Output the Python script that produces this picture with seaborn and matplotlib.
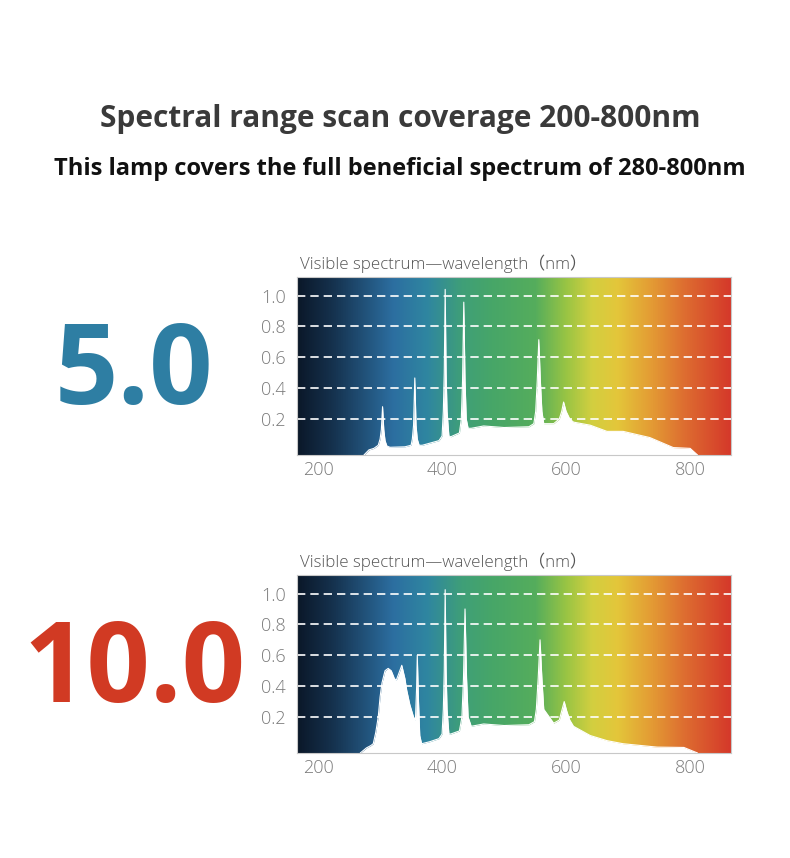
import numpy as np
import matplotlib
matplotlib.use("Agg")
import matplotlib.pyplot as plt
import seaborn as sns
from matplotlib.colors import LinearSegmentedColormap

# spectrum of the 5.0 lamp (wavelength nm, relative intensity)
wl_5 = [274, 282, 290, 297, 300, 302, 304, 306, 308, 311, 316, 340, 350, 352, 354, 356, 358, 360, 363,
        368, 395, 400, 402, 403.5, 405, 406.5, 408, 411, 414, 428, 431, 433, 435, 437, 439, 442,
        447, 467, 500, 540, 548, 551, 553.5, 556, 558.5, 561, 564, 580, 589, 593, 596, 600, 606,
        612, 639, 666, 692, 735, 773, 800, 812]
int_5 = [-0.033, 0.0, 0.01, 0.03, 0.07, 0.13, 0.28, 0.13, 0.06, 0.025, 0.017, 0.02, 0.03, 0.07, 0.16, 0.466, 0.16, 0.07, 0.03,
         0.03, 0.06, 0.09, 0.25, 0.5, 1.04, 0.5, 0.25, 0.09, 0.085, 0.11, 0.2, 0.45, 0.957, 0.45, 0.2, 0.14,
         0.14, 0.155, 0.145, 0.15, 0.17, 0.25, 0.45, 0.714, 0.45, 0.25, 0.17, 0.17, 0.2, 0.25, 0.31, 0.25, 0.2,
         0.18, 0.16, 0.12, 0.12, 0.08, 0.015, 0.01, -0.033]

# spectrum of the 10.0 lamp
wl_10 = [268, 278, 285, 289, 293, 297, 300, 303, 308, 313, 318, 323, 326, 330, 335, 340,
         343, 348, 354, 357, 359, 360, 362, 364, 367, 380, 395, 400, 402, 403.5, 405, 406.5,
         408, 411, 414, 428, 432, 434.5, 437, 439.5, 442, 447, 467, 500, 540, 549, 552, 555, 558,
         561, 564, 580, 589, 593, 597, 601, 606, 612, 639, 666, 692, 747, 790, 812]
int_10 = [-0.033, 0.0, 0.015, 0.027, 0.1, 0.2, 0.33, 0.42, 0.5, 0.515, 0.5, 0.45, 0.437, 0.48, 0.535, 0.45,
          0.373, 0.28, 0.2, 0.18, 0.4, 0.6, 0.3, 0.08, 0.027, 0.04, 0.06, 0.09, 0.25, 0.5, 1.025, 0.5,
          0.25, 0.09, 0.09, 0.11, 0.2, 0.45, 0.9, 0.45, 0.2, 0.14, 0.155, 0.145, 0.15, 0.17, 0.25, 0.45, 0.70,
          0.45, 0.25, 0.16, 0.18, 0.24, 0.30, 0.24, 0.18, 0.14, 0.08, 0.047, 0.027, 0.005, 0.003, -0.033]

x_ticks = [200, 400, 600, 800]
y_ticks = [0.2, 0.4, 0.6, 0.8, 1.0]
y_tick_labels = ["0.2", "0.4", "0.6", "0.8", "1.0"]

sns.set_theme(style="white")
plt.rcParams["font.family"] = ["Open Sans", "Noto Sans CJK SC", "DejaVu Sans"]

spectrum_cmap = LinearSegmentedColormap.from_list("spec", [
    (0.00, "#0b1829"), (0.08, "#15314d"), (0.22, "#2c6ea0"), (0.30, "#2f86a0"),
    (0.38, "#3f9f78"), (0.45, "#47a668"), (0.55, "#55ad5c"), (0.62, "#98c444"),
    (0.68, "#d2cf40"), (0.74, "#e4c63a"), (0.82, "#e39a34"), (0.90, "#dd6a30"),
    (1.00, "#d5392a")])

fig = plt.figure(figsize=(7.9, 8.58), dpi=100)
W, H = 790, 858

fig.text(400 / W, 1 - 119 / H, "Spectral range scan coverage 200-800nm",
         ha="center", va="center", fontsize=21.5, fontweight="bold", color="#3a3a3a")
fig.text(400 / W, 1 - 169 / H, "This lamp covers the full beneficial spectrum of 280-800nm",
         ha="center", va="center", fontsize=17, fontweight="bold", color="#111111")

xlim = (166, 866)
ylim = (-0.033, 1.12)


def draw_panel(top_px, wl, inten, big_text, big_color):
    ax = fig.add_axes([297 / W, 1 - (top_px + 178) / H, 434 / W, 178 / H])
    grad = np.linspace(0, 1, 512).reshape(1, -1)
    ax.imshow(grad, extent=[xlim[0], xlim[1], ylim[0], ylim[1]], aspect="auto",
              cmap=spectrum_cmap, zorder=0)
    for yv in y_ticks:
        ax.axhline(yv, color="white", lw=1.2, ls=(0, (5, 3)), zorder=1)
    ax.fill_between(wl, inten, ylim[0], color="white", lw=0, zorder=2)
    sns.lineplot(x=wl, y=inten, ax=ax, color="white", lw=0.8, zorder=3)
    ax.set_xlim(*xlim)
    ax.set_ylim(*ylim)
    ax.set_xticks(x_ticks)
    ax.set_xticklabels([str(v) for v in x_ticks])
    ax.set_yticks(y_ticks)
    ax.set_yticklabels(y_tick_labels)
    ax.tick_params(axis="both", length=0, labelsize=13, labelcolor="#7a7a7a")
    ax.tick_params(axis="x", pad=4)
    ax.tick_params(axis="y", pad=8)
    for lab in ax.get_xticklabels() + ax.get_yticklabels():
        lab.set_fontweight("light")
    for sp in ax.spines.values():
        sp.set_color("#c8c8c8")
        sp.set_linewidth(0.8)
    ax.set_xlabel("")
    ax.set_ylabel("")
    ax.text(0.007, 1.025, "Visible spectrum—wavelength（nm）", transform=ax.transAxes,
            ha="left", va="bottom", fontsize=12.2, color="#555555", fontweight="light")
    fig.text(134 / W, 1 - (top_px + 98) / H, big_text, ha="center", va="center",
             fontsize=80, fontweight="bold", color=big_color)
    return ax


draw_panel(277, wl_5, int_5, "5.0", "#2e7ea3")
draw_panel(575, wl_10, int_10, "10.0", "#d13a23")

fig.savefig("out.png", dpi=100, facecolor="white")
